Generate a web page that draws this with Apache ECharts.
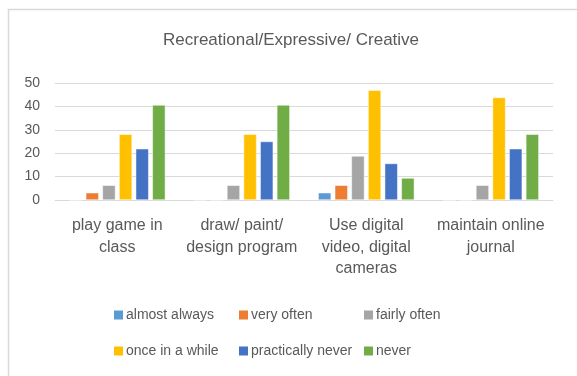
<!DOCTYPE html>
<html>
<head>
<meta charset="utf-8">
<script src="https://cdn.jsdelivr.net/npm/echarts@6/dist/echarts.min.js"></script>
<style>html,body{margin:0;padding:0;background:#fff;}#c{width:577px;height:376px;}</style>
</head>
<body>
<div id="c"></div>
<script>
var title = 'Recreational/Expressive/ Creative';
var categories = ['play game in\nclass', 'draw/ paint/\ndesign program', 'Use digital\nvideo, digital\ncameras', 'maintain online\njournal'];
var seriesNames = ['almost always', 'very often', 'fairly often', 'once in a while', 'practically never', 'never'];
var almostAlways = [0, 0, 3.1, 0];
var veryOften = [3.1, 0, 6.3, 0];
var fairlyOften = [6.3, 6.3, 18.8, 6.3];
var onceInAWhile = [28.1, 28.1, 46.9, 43.8];
var practicallyNever = [21.9, 25.0, 15.6, 21.9];
var never = [40.6, 40.6, 9.4, 28.1];
var yTicks = [0, 10, 20, 30, 40, 50];

var colors = ['#5b9bd5', '#ed7d31', '#a5a5a5', '#ffc000', '#4472c4', '#70ad47'];
var values = [almostAlways, veryOften, fairlyOften, onceInAWhile, practicallyNever, never];
var font = 'Liberation Sans';
var legendPos = [[114, 308], [239, 308], [364, 308], [114, 344], [239, 344], [364, 344]];

var chart = echarts.init(document.getElementById('c'), null, {renderer: 'canvas'});
var legends = seriesNames.map(function (n, i) {
  return {
    data: [n], left: legendPos[i][0], top: legendPos[i][1], padding: 0,
    itemWidth: 9, itemHeight: 9, icon: 'rect', itemGap: 0,
    itemStyle: {borderWidth: 0},
    textStyle: {color: '#595959', fontSize: 14, fontFamily: font, padding: [0, 0, 0, -2]},
    selectedMode: false
  };
});
chart.setOption({
  animation: false,
  color: colors,
  textStyle: {fontFamily: font},
  title: {text: title, left: 163, top: 32, padding: 0, textStyle: {color: '#595959', fontSize: 17, fontWeight: 'normal', fontFamily: font}},
  legend: legends,
  graphic: [{type: 'rect', left: 6, top: 7, shape: {width: 620, height: 420}, style: {fill: 'none', stroke: '#d9d9d9', lineWidth: 1.5}, z: -1}],
  grid: {left: 55, right: 24, top: 83, bottom: 176},
  xAxis: {
    type: 'category', data: categories,
    axisLine: {lineStyle: {color: '#d9d9d9', width: 1}},
    axisTick: {show: false},
    axisLabel: {color: '#595959', fontSize: 16, fontFamily: font, lineHeight: 21.5, margin: 15, interval: 0}
  },
  yAxis: {
    type: 'value', min: yTicks[0], max: yTicks[yTicks.length - 1], interval: 10,
    axisLine: {show: false}, axisTick: {show: false},
    splitLine: {lineStyle: {color: '#d9d9d9', width: 1}},
    axisLabel: {color: '#595959', fontSize: 14, fontFamily: font, margin: 15}
  },
  series: seriesNames.map(function (n, i) {
    return {
      name: n, type: 'bar', data: values[i],
      barWidth: 13, barGap: '28%',
      itemStyle: {color: colors[i], borderColor: '#ffffff', borderWidth: 0.5}
    };
  })
});
</script>
</body>
</html>
